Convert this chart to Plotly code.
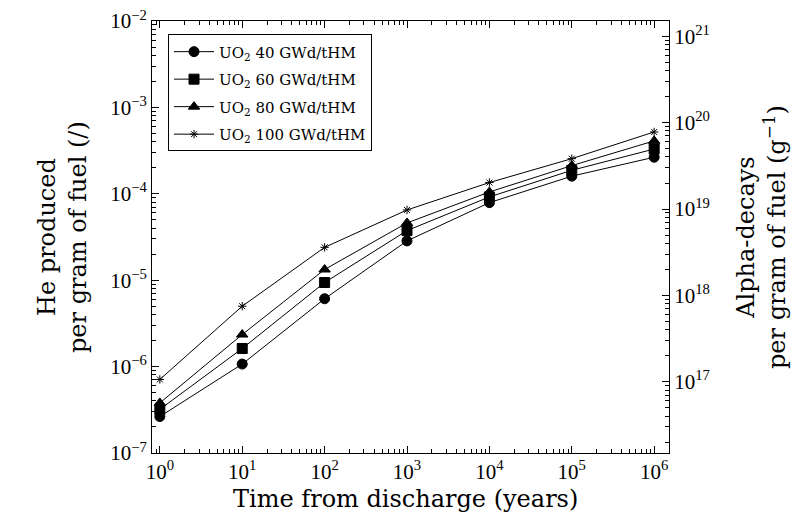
import plotly.graph_objects as go

# time from discharge (years)
years = [1, 10, 100, 1000, 1e4, 1e5, 1e6]

# He produced per gram of fuel
he_40 = [2.64e-7, 1.07e-6, 6.1e-6, 2.85e-5, 7.9e-5, 1.6e-4, 2.65e-4]
he_60 = [3.2e-7, 1.62e-6, 9.4e-6, 3.75e-5, 9.2e-5, 1.87e-4, 3.3e-4]
he_80 = [3.8e-7, 2.35e-6, 1.33e-5, 4.6e-5, 1.05e-4, 2.12e-4, 4.1e-4]
he_100 = [7.1e-7, 5.0e-6, 2.4e-5, 6.5e-5, 1.35e-4, 2.55e-4, 5.2e-4]

labels = ["UO<sub>2</sub> 40 GWd/tHM", "UO<sub>2</sub> 60 GWd/tHM",
          "UO<sub>2</sub> 80 GWd/tHM", "UO<sub>2</sub> 100 GWd/tHM"]

x_tickvals = [1, 10, 100, 1000, 1e4, 1e5, 1e6]
x_ticktext = ["10<sup>%d</sup>" % i for i in range(7)]
y_tickvals = [1e-7, 1e-6, 1e-5, 1e-4, 1e-3, 1e-2]
y_ticktext = ["10<sup>−%d</sup>" % i for i in range(7, 1, -1)]
y2_tickvals = [1e17, 1e18, 1e19, 1e20, 1e21]
y2_ticktext = ["10<sup>%d</sup>" % i for i in range(17, 22)]

# alpha decays per gram = He atoms per gram (1.5e23 atoms per g He)
HE_ATOMS = 1.5e23

X_RANGE = [-0.095, 6.18]
Y_RANGE = [-7, -2]
Y2_RANGE = [-7 + 23.176, -2 + 23.176]


def minor_ticks(lo, hi):
    """2..9 x 10^d positions inside a log range"""
    vals = []
    for d in range(int(lo) - 1, int(hi) + 2):
        for m in range(2, 10):
            v = m * 10.0 ** d
            if 10 ** lo < v < 10 ** hi:
                vals.append(v)
    return vals


symbols = ["circle", "square", "triangle-up", "asterisk-open"]
sizes = [10, 10, 10, 7]

fig = go.Figure()
for i, (series, name) in enumerate(zip([he_40, he_60, he_80, he_100], labels)):
    fig.add_trace(go.Scatter(
        x=years, y=series, mode="lines+markers", name=name, legendgroup=str(i),
        line=dict(color="black", width=1),
        marker=dict(symbol=symbols[i], size=sizes[i], color="black",
                    line=dict(color="black", width=1)),
    ))

# invisible traces carrying the right-hand scale and the minor-tick axes
hidden = dict(mode="markers", marker=dict(opacity=0), showlegend=False, hoverinfo="skip")
fig.add_trace(go.Scatter(x=years, y=[v * HE_ATOMS for v in he_100], yaxis="y2", **hidden))
fig.add_trace(go.Scatter(x=years, y=he_100, xaxis="x2", **hidden))
fig.add_trace(go.Scatter(x=years, y=he_100, yaxis="y3", **hidden))
fig.add_trace(go.Scatter(x=years, y=[v * HE_ATOMS for v in he_100], yaxis="y4", **hidden))

tick_font = dict(family="Liberation Serif", size=21, color="black")
title_font = dict(family="DejaVu Serif", size=24, color="black")

common = dict(type="log", showgrid=False, zeroline=False, automargin=False,
              tickcolor="black", tickwidth=1, ticks="inside", tickmode="array",
              ticklabeloverflow="allow")

# page body has an 8px margin, so the figure is drawn 8px in and 16px smaller
fig.update_layout(
    width=787, height=509,
    margin=dict(l=144, r=126, t=13, b=64),
    plot_bgcolor="white", paper_bgcolor="white",
    xaxis=dict(
        common, range=X_RANGE,
        showline=True, linecolor="black", linewidth=1, mirror="ticks",
        ticklen=7, tickvals=x_tickvals, ticktext=x_ticktext, tickfont=tick_font,
    ),
    xaxis2=dict(
        common, range=X_RANGE, overlaying="x", side="bottom", anchor="y", mirror="ticks",
        ticklen=4, tickvals=minor_ticks(*X_RANGE), showticklabels=False,
    ),
    yaxis=dict(
        common, range=Y_RANGE,
        showline=True, linecolor="black", linewidth=1,
        ticklen=7, tickvals=y_tickvals, ticktext=y_ticktext, tickfont=tick_font,
    ),
    yaxis3=dict(
        common, range=Y_RANGE, overlaying="y", side="left", anchor="x",
        ticklen=4, tickvals=minor_ticks(*Y_RANGE), showticklabels=False,
    ),
    yaxis2=dict(
        common, range=Y2_RANGE, overlaying="y", side="right", anchor="x",
        showline=True, linecolor="black", linewidth=1,
        ticklen=7, tickvals=y2_tickvals, ticktext=y2_ticktext, tickfont=tick_font,
    ),
    yaxis4=dict(
        common, range=Y2_RANGE, overlaying="y", side="right", anchor="x",
        ticklen=4, tickvals=minor_ticks(*Y2_RANGE), showticklabels=False,
    ),
    legend=dict(
        x=0.031, y=0.969, xanchor="left", yanchor="top",
        bgcolor="white", bordercolor="black", borderwidth=1,
        font=dict(family="DejaVu Serif", size=15, color="black"),
        tracegroupgap=5, itemwidth=40,
    ),
    showlegend=True,
)

# axis titles
fig.add_annotation(text="Time from discharge (years)", xref="paper", yref="paper",
                   x=0.5, y=0, xanchor="center", yanchor="middle",
                   xshift=-5, yshift=-46, showarrow=False, font=title_font)
fig.add_annotation(text="He produced<br>per gram of fuel (/)", xref="paper", yref="paper",
                   x=0, y=0.5, xanchor="center", yanchor="middle", textangle=-90,
                   xshift=-90, showarrow=False, font=title_font)
fig.add_annotation(text="Alpha-decays<br>per gram of fuel (g<sup>−1</sup>)",
                   xref="paper", yref="paper",
                   x=1, y=0.5, xanchor="center", yanchor="middle", textangle=-90,
                   xshift=92, showarrow=False, font=title_font)

fig.write_html("out.html")
